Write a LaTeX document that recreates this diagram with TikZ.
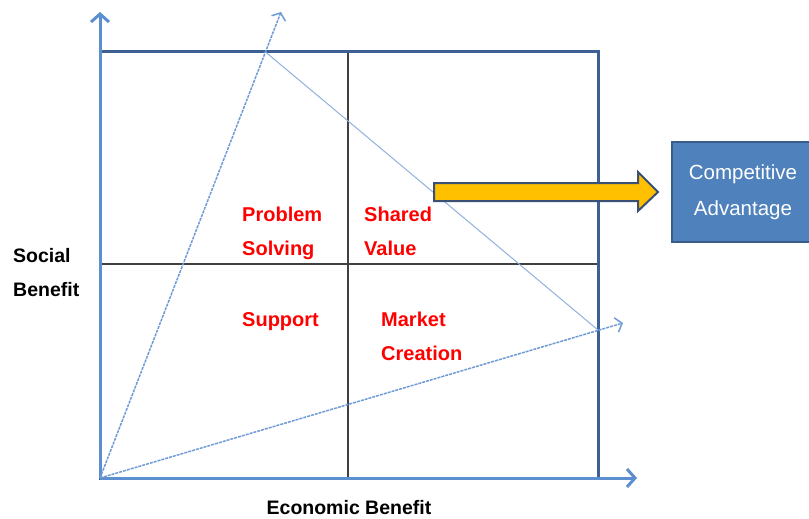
\documentclass[tikz,border=0pt]{standalone}
\usepackage{fontspec}
\setmainfont{Liberation Sans}
\usetikzlibrary{arrows.meta}
\definecolor{framebl}{HTML}{3C5F94}
\definecolor{axisbl}{HTML}{5B8FCF}
\definecolor{raybl}{HTML}{6F9BD6}
\definecolor{linebl}{HTML}{8FB1DD}
\definecolor{midgray}{HTML}{404040}
\definecolor{quadred}{HTML}{FF0000}
\definecolor{boxfill}{HTML}{4F81BD}
\definecolor{boxline}{HTML}{385D8A}
\definecolor{arrowfill}{HTML}{FFC000}
\definecolor{arrowline}{HTML}{3A5075}
\begin{document}
\begin{tikzpicture}[x = 1pt, y = -1pt,
                        frame/.style = {draw = framebl, line width = 3pt},
                        mid/.style = {draw = midgray, line width = 1.1pt},
                        axis/.style = {draw = axisbl, line width = 3pt, -{Straight Barb[length = 8pt, width = 18pt, line width = 3pt]}},
                        ray/.style = {draw = raybl, line width = 1.5pt, dash pattern = on 3pt off 1pt, -{Straight Barb[length = 6pt, width = 15pt, line width = 1.5pt]}},
                        quad/.style = {text = quadred, font = \fontsize{20}{34}\selectfont\bfseries, align = left, anchor = north west, inner sep = 0pt},
                        axlabel/.style = {text = black, font = \fontsize{19.5}{34}\selectfont\bfseries, align = left, inner sep = 0pt}]
      \useasboundingbox (0, 0) rectangle (809, 519);
      \coordinate (o) at (100, 478);
      \coordinate (tl) at (100, 52);
      \coordinate (br) at (598, 478);
      \coordinate (tr) at (598, 52);
      \coordinate (ytip) at (100, 12);
      \coordinate (xtip) at (637, 478);
      \coordinate (mtop) at (348, 52);
      \coordinate (mbot) at (348, 478);
      \coordinate (mleft) at (100, 264);
      \coordinate (mright) at (598, 264);
      \coordinate (tipa) at (281, 12);
      \coordinate (tipb) at (623, 323);
      \coordinate (p1) at (265.5, 52);
      \coordinate (p2) at (598, 330);
      \draw [mid] (mtop) -- (mbot);
      \draw [mid] (mleft) -- (mright);
      \draw [frame] (o) rectangle (tr);
      \draw [axis] (o) -- (ytip);
      \draw [axis] (o) -- (xtip);
      \draw [ray] (o) -- (tipa);
      \draw [ray] (o) -- (tipb);
      \draw [draw = linebl, line width = 1pt] (p1) -- (p2);
      \draw [draw = arrowline, fill = arrowfill, line width = 2pt, line join = miter]
        (434, 183) -- (638, 183) -- (638, 172) -- (658, 192) -- (638, 211) -- (638, 201) -- (434, 201) -- cycle;
      \node [draw = boxline, fill = boxfill, line width = 2pt, minimum width = 142pt, minimum height = 100pt,
             anchor = west, text = white, align = center, font = \fontsize{20.5}{36}\selectfont] (adv) at (671, 192)
             {Competitive\\Advantage};
      \node [quad] (ps) at (242, 207) {Problem\\Solving};
      \node [quad] (sv) at (364, 207) {Shared\\Value};
      \node [quad] (sp) at (242, 312) {Support};
      \node [quad] (mc) at (381, 312) {Market\\Creation};
      \node [axlabel, anchor = north west] (sb) at (13, 248) {Social\\Benefit};
      \node [axlabel] (eb) at (349, 508) {Economic Benefit};
    \end{tikzpicture}
\end{document}
